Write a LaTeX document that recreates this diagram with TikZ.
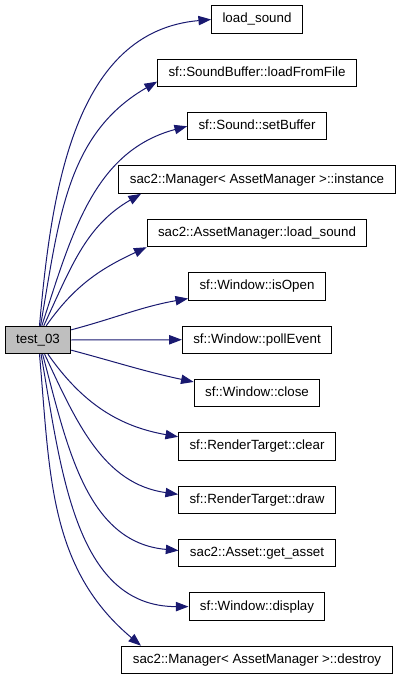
\documentclass[tikz,border=0pt]{standalone}
\usepackage{fontspec}
\setmainfont{Liberation Sans}
\usetikzlibrary{arrows.meta,positioning}
\definecolor{edgeblue}{RGB}{25,25,112}
\definecolor{callergray}{RGB}{191,191,191}

\begin{document}
\begin{tikzpicture}[
        x=0.75pt, y=-0.75pt,
        node distance=18.68pt,
        func/.style={draw, fill=white, font=\fontsize{10}{12}\selectfont, minimum height=20.6pt, inner xsep=8.2pt, text height=7.2pt, text depth=2pt, line width=0.75pt},
        arr/.style={-{Triangle[length=9.5pt,width=7pt]}, draw=edgeblue, line width=0.75pt}
    ]
        \useasboundingbox (0,0) rectangle (400,680);

        \node[func] (ldsnd) at (257,19.5) {load\_sound};
        \node[func, below=of ldsnd] (sbload) {sf::SoundBuffer::loadFromFile};
        \node[func, below=of sbload] (setbuf) {sf::Sound::setBuffer};
        \node[func, below=of setbuf] (mginst) {sac2::Manager< AssetManager >::instance};
        \node[func, below=of mginst] (amload) {sac2::AssetManager::load\_sound};
        \node[func, below=of amload] (isopen) {sf::Window::isOpen};
        \node[func, below=of isopen] (poll) {sf::Window::pollEvent};
        \node[func, below=of poll] (close) {sf::Window::close};
        \node[func, below=of close] (rtclear) {sf::RenderTarget::clear};
        \node[func, below=of rtclear] (rtdraw) {sf::RenderTarget::draw};
        \node[func, below=of rtdraw] (getasset) {sac2::Asset::get\_asset};
        \node[func, below=of getasset] (display) {sf::Window::display};
        \node[func, below=of display] (mgdestroy) {sac2::Manager< AssetManager >::destroy};

        \node[func, fill=callergray] (test) at (38,340) {test\_03};

        \draw[arr] (test.84) to[out=85, in=185] (ldsnd.west);
        \draw[arr] (test.80) to[out=80, in=210] (sbload.185);
        \draw[arr] (test.75) to[out=72, in=195] (setbuf.west);
        \draw[arr] (test.68) to[out=65, in=210] (mginst.187);
        \draw[arr] (test.60) to[out=55, in=205] (amload.south west);
        \draw[arr] (test.17) to[out=15, in=190] (isopen.190);
        \draw[arr] (test.east) -- (poll.west);
        \draw[arr] (test.-17) to[out=-15, in=168] (close.170);
        \draw[arr] (test.-55) to[out=-55, in=170] (rtclear.173);
        \draw[arr] (test.-65) to[out=-65, in=172] (rtdraw.176);
        \draw[arr] (test.-72) to[out=-75, in=175] (getasset.178);
        \draw[arr] (test.-78) to[out=-80, in=180] (display.west);
        \draw[arr] (test.-84) to[out=-85, in=140] (mgdestroy.173);
    \end{tikzpicture}
\end{document}
